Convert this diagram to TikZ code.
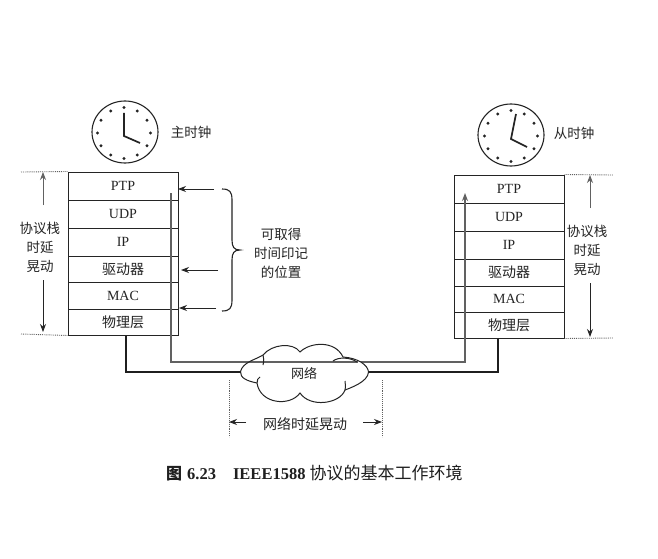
\documentclass[tikz,border=0pt]{standalone}
\usepackage{fontspec}
\setmainfont{Liberation Serif}
\newfontfamily\cjk{Noto Sans CJK SC}
\usetikzlibrary{arrows.meta,shapes.geometric,calc}
\definecolor{ink}{gray}{0.14}
\definecolor{midink}{gray}{0.38}
\newcommand{\low}[1]{\raisebox{-1.6pt}{#1}}
\tikzset{
  x=1pt,y=-1pt,
  layer/.style={draw=ink,line width=1pt,minimum width=110pt,inner sep=0pt,font=\fontsize{14}{14}\selectfont,text=ink},
  cjklayer/.style={layer,font=\cjk\fontsize{14}{14}\selectfont},
  clockface/.style={draw=ink,line width=1.1pt,shape=ellipse,minimum width=66pt,minimum height=62pt,inner sep=0pt},
  hand/.style={draw=ink,line width=1.7pt},
  label/.style={font=\cjk\fontsize{13.5}{19}\selectfont,text=ink,align=center,inner sep=0pt},
  dim/.style={draw=ink,line width=0.9pt},
  dimtip/.style={dim,-{Stealth[length=8pt,width=6pt]}},
  dots/.style={draw=midink,line width=0.9pt,densely dotted},
  wire/.style={draw=black!88,line width=1.8pt,line join=miter},
  timing/.style={draw=midink,line width=1.4pt},
  cloudline/.style={draw=ink,line width=1pt},
  cloudshape/.style={insert path={(240.5,371.5) .. controls (243,362) and (255,360) .. (263,355)
  .. controls (272,344) and (293,342) .. (300,352)
  .. controls (310,342) and (335,340) .. (343,357)
  .. controls (358,358) and (368,365) .. (368.5,372)
  .. controls (368,382) and (350,388) .. (345,390)
  .. controls (340,404) and (310,408) .. (300,393)
  .. controls (290,407) and (260,404) .. (257,383)
  .. controls (247,381) and (240,378) .. (240.5,371.5) -- cycle}},
}
\newcommand{\clockdots}[2]{\foreach \a in {0,30,...,330}{\fill[ink] ({#1+26.5*cos(\a)},{#2+25.5*sin(\a)}) circle (1.6pt);}}
\begin{document}
\begin{tikzpicture}
\useasboundingbox[fill=white] (0,0) rectangle (658,559);

% clocks
\node[clockface] (lclock) at (125,132) {};
\clockdots{124}{133}
\coordinate (lhub) at (124,136);
\coordinate (lh1) at (124,113);
\coordinate (lh2) at (140,143);
\draw[hand] (lh1) -- (lhub) -- (lh2);
\node[label] (lname) at (191,132) {主时钟};

\node[clockface] (rclock) at (511,135) {};
\clockdots{511}{136}
\coordinate (rhub) at (511,139);
\coordinate (rh1) at (516,114);
\coordinate (rh2) at (527,147);
\draw[hand] (rh1) -- (rhub) -- (rh2);
\node[label] (rname) at (574,133) {从时钟};

% left stack
\node[layer,minimum height=28pt] (lptp) at (123,186) {\low{PTP}};
\node[layer,minimum height=28pt] (ludp) at (123,214) {\low{UDP}};
\node[layer,minimum height=28pt] (lip)  at (123,242) {\low{IP}};
\node[cjklayer,minimum height=26pt] (ldrv) at (123,269) {\low{驱动器}};
\node[layer,minimum height=27pt] (lmac) at (123,295.5) {\low{MAC}};
\node[cjklayer,minimum height=26pt] (lphy) at (123,322) {\low{物理层}};

% right stack
\node[layer,minimum height=28pt] (rptp) at (509,189) {\low{PTP}};
\node[layer,minimum height=28pt] (rudp) at (509,217) {\low{UDP}};
\node[layer,minimum height=28pt] (rip)  at (509,245) {\low{IP}};
\node[cjklayer,minimum height=27pt] (rdrv) at (509,272.5) {\low{驱动器}};
\node[layer,minimum height=26pt] (rmac) at (509,299) {\low{MAC}};
\node[cjklayer,minimum height=26pt] (rphy) at (509,325) {\low{物理层}};

% timing path
\coordinate (ta) at (171,193);
\coordinate (tb) at (171,362);
\coordinate (tc) at (465,362);
\coordinate (td) at (465,193);
\draw[timing,-{Stealth[length=8pt,width=6pt]}] (ta) -- (tb) -- (tc) -- (td);

% cloud
\fill[white,cloudshape];
\draw[timing] (247,362) -- (358,362);
\draw[cloudline,cloudshape];
\draw[cloudline] (263,355) .. controls (264,358) and (264,361) .. (263,365);
\draw[cloudline] (333,361) .. controls (338,357) and (350,357) .. (357,362);
\draw[cloudline] (257,383) .. controls (257,380) and (258,378) .. (260,377);
\draw[cloudline] (345,390) .. controls (346,386) and (345,384) .. (345,381);
\node[label,font=\cjk\fontsize{13}{14}\selectfont] (net) at (304,373) {网络};

% physical links
\coordinate (cloudL) at (240.5,372);
\coordinate (cloudR) at (368.5,372);
\draw[wire] (lphy.south -| 126,0) -- (126,372) -- (cloudL);
\draw[wire] (rphy.south -| 498,0) -- (498,372) -- (cloudR);

% left jitter
\coordinate (ljt) at (43,172);
\coordinate (ljb) at (43,332);
\coordinate (ljtl) at (43,205);
\coordinate (ljbl) at (43,280);
\draw[dimtip,draw=midink] (ljtl) -- (ljt);
\draw[dimtip] (ljbl) -- (ljb);
\draw[dots] (21,172) -- (lptp.north west);
\draw[dots] (21,334) -- (lphy.south west);
\node[label] (ljit) at (40,247) {协议栈\\时延\\晃动};

% right jitter
\coordinate (rjt) at (590,175);
\coordinate (rjb) at (590,337);
\coordinate (rjtl) at (590,208);
\coordinate (rjbl) at (590,283);
\draw[dimtip,draw=midink] (rjtl) -- (rjt);
\draw[dimtip] (rjbl) -- (rjb);
\draw[dots] (rptp.north east) -- (613,175);
\draw[dots] (rphy.south east) -- (613,338);
\node[label] (rjit) at (587,250) {协议栈\\时延\\晃动};

% timestamp arrows
\coordinate (s1) at (214,189);
\coordinate (s2) at (218,270);
\coordinate (s3) at (216,308);
\coordinate (e1) at (178,189);
\coordinate (e2) at (181,270);
\coordinate (e3) at (179,308);
\draw[dimtip] (s1) -- (e1);
\draw[dimtip] (s2) -- (e2);
\draw[dimtip] (s3) -- (e3);
\draw[cloudline,line width=1.1pt] (222,189) .. controls (230,189) and (232,192) .. (232,200)
  -- (232,240) .. controls (232,247) and (234,250) .. (240,250)
  .. controls (234,250) and (232,253) .. (232,260)
  -- (232,300) .. controls (232,308) and (230,311) .. (222,311);
\node[label] (where) at (281,253) {可取得\\时间印记\\的位置};

% network jitter
\coordinate (na) at (229,380);
\coordinate (nb) at (229,437);
\coordinate (nc) at (382,380);
\coordinate (nd) at (382,437);
\draw[dots] (na) -- (nb);
\draw[dots] (nc) -- (nd);
\coordinate (nl) at (229,422);
\coordinate (nr) at (382,422);
\coordinate (nls) at (246,422);
\coordinate (nrs) at (363,422);
\draw[dimtip] (nls) -- (nl);
\draw[dimtip] (nrs) -- (nr);
\node[label,font=\cjk\fontsize{14}{14}\selectfont] (njit) at (305,424) {网络时延晃动};

% caption
\node[anchor=base west,inner sep=0pt,text=black!88] (cap) at (166,479)
  {\cjk\fontsize{16}{16}\selectfont\bfseries 图\hspace{5pt}\rmfamily\fontsize{16.5}{16}\selectfont\bfseries 6.23\hspace{17pt}IEEE1588\hspace{4pt}\cjk\fontsize{17}{17}\selectfont\mdseries 协议的基本工作环境};
\end{tikzpicture}
\end{document}
